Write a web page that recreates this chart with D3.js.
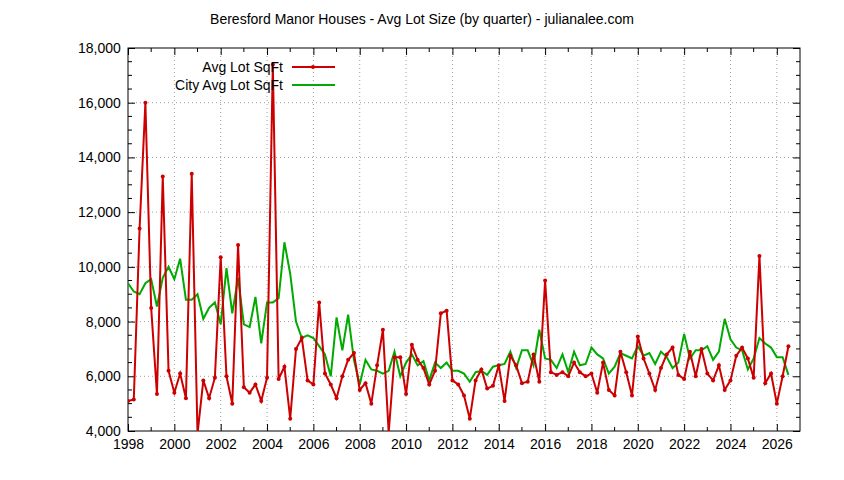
<!DOCTYPE html>
<html>
<head>
<meta charset="utf-8">
<script src="https://cdn.jsdelivr.net/npm/d3@7"></script>
<style>
  body { margin: 0; background: #fff; }
  text { font-family: "Liberation Sans", Arial, sans-serif; }
</style>
</head>
<body>
<svg id="chart" width="844" height="480"></svg>
<script>
// quarterly values, starting 1998 Q1 (thousands of sq ft)
const startYear = 1998;
const avgLot = [
  5.1, 5.15, 11.4, 16.0, 8.5, 5.35, 13.3, 6.2, 5.4, 6.1, 5.2, 13.4,
  3.9, 5.85, 5.2, 5.95, 10.35, 6.0, 5.0, 10.8, 5.6, 5.4, 5.7, 5.1,
  5.95, 17.4, 5.9, 6.35, 4.45, 7.0, 7.4, 5.85, 5.7, 8.7, 6.1, 5.7,
  5.2, 6.0, 6.6, 6.85, 5.5, 5.75, 5.0, 6.4, 7.7, 3.95, 6.7, 6.7,
  5.35, 7.15, 6.6, 6.3, 5.7, 6.2, 8.3, 8.4, 5.85, 5.7, 5.3, 4.45,
  5.85, 6.25, 5.55, 5.65, 6.4, 5.1, 6.75, 6.4, 5.75, 5.8, 6.8, 5.8,
  9.5, 6.15, 6.05, 6.15, 6.0, 6.5, 6.15, 6.0, 6.1, 5.4, 6.5, 5.5,
  5.3, 6.9, 6.15, 5.3, 7.45, 6.65, 6.1, 5.5, 6.3, 6.8, 7.05, 6.05,
  5.9, 6.9, 6.0, 7.0, 6.1, 5.85, 6.4, 5.5, 5.85, 6.75, 7.05, 6.65,
  5.95, 10.4, 5.75, 6.1, 5.0, 6.0, 7.1
];
const cityAvgLot = [
  9.4, 9.1, 9.0, 9.4, 9.55, 8.55, 9.6, 10.0, 9.55, 10.3, 8.8, 8.8,
  9.0, 8.1, 8.5, 8.7, 7.9, 9.95, 8.3, 9.6, 7.9, 7.8, 8.9, 7.2,
  8.7, 8.7, 8.85, 10.9, 9.75, 8.0, 7.4, 7.5, 7.4, 7.1, 6.8, 6.0,
  8.15, 6.95, 8.25, 6.6, 5.7, 6.6, 6.25, 6.2, 6.1, 6.2, 6.9, 6.0,
  6.5, 6.8, 6.4, 6.55, 5.85, 6.5, 6.3, 6.5, 6.2, 6.2, 6.1, 5.8,
  6.15, 6.2, 6.05, 6.35, 6.4, 6.45, 6.9, 6.3, 6.95, 6.95, 6.4, 7.7,
  6.65, 6.6, 6.3, 6.8, 6.15, 6.9, 6.4, 6.45, 7.05, 6.8, 6.65, 6.1,
  6.35, 6.85, 6.75, 6.65, 7.1, 6.75, 6.85, 6.45, 6.9, 6.7, 6.3, 6.5,
  7.55, 6.65, 6.95, 6.95, 7.1, 6.6, 6.9, 8.1, 7.35, 7.05, 6.95, 6.25,
  6.65, 7.4, 7.2, 7.05, 6.7, 6.7, 6.05
];
const xTicks = d3.range(1998, 2027, 2);
const yTicks = d3.range(4000, 18001, 2000);

const svg = d3.select("#chart");
const m = { left: 128, right: 800, top: 48, bottom: 431 };

const x = d3.scaleLinear().domain([1998, 2027]).range([m.left, m.right]);
const y = d3.scaleLinear().domain([4000, 18000]).range([m.bottom, m.top]);

const toPts = arr => arr.map((v, i) => ({ t: startYear + i / 4, v: v * 1000 }));

// grid
svg.append("g").selectAll("line").data(xTicks.slice(1)).join("line")
  .attr("x1", d => x(d)).attr("x2", d => x(d))
  .attr("y1", m.top).attr("y2", m.bottom)
  .attr("stroke", "#a0a0a0").attr("stroke-dasharray", "1,3");
svg.append("g").selectAll("line").data(yTicks.slice(1, -1)).join("line")
  .attr("x1", m.left).attr("x2", m.right)
  .attr("y1", d => y(d)).attr("y2", d => y(d))
  .attr("stroke", "#a0a0a0").attr("stroke-dasharray", "1,3");

// axes (ticks on all sides, gnuplot style)
const xb = svg.append("g").attr("transform", `translate(0,${m.bottom})`)
  .call(d3.axisBottom(x).tickValues(xTicks).tickFormat(d3.format("d")).tickSize(-7).tickSizeOuter(0));
const xt = svg.append("g").attr("transform", `translate(0,${m.top})`)
  .call(d3.axisTop(x).tickValues(xTicks).tickFormat("").tickSize(-7).tickSizeOuter(0));
const yl = svg.append("g").attr("transform", `translate(${m.left},0)`)
  .call(d3.axisLeft(y).tickValues(yTicks).tickSize(-7).tickSizeOuter(0));
const yr = svg.append("g").attr("transform", `translate(${m.right},0)`)
  .call(d3.axisRight(y).tickValues(yTicks).tickFormat("").tickSize(-7).tickSizeOuter(0));
[xb, xt, yl, yr].forEach(g => {
  g.select(".domain").remove();
  g.selectAll("text").attr("font-size", 14).attr("fill", "#000");
});
xb.selectAll("text").attr("dy", "1.1em");
yl.selectAll("text").attr("dx", "-0.3em");

// minor ticks
const minorX = d3.range(1999, 2027, 2);
const minorY = d3.range(4500, 18000, 500).filter(d => d % 2000 !== 0);
svg.append("g").selectAll("line").data(minorX).join("line")
  .attr("x1", d => x(d)).attr("x2", d => x(d)).attr("y1", m.bottom).attr("y2", m.bottom - 4).attr("stroke", "#000");
svg.append("g").selectAll("line").data(minorX).join("line")
  .attr("x1", d => x(d)).attr("x2", d => x(d)).attr("y1", m.top).attr("y2", m.top + 4).attr("stroke", "#000");
svg.append("g").selectAll("line").data(minorY).join("line")
  .attr("x1", m.left).attr("x2", m.left + 4).attr("y1", d => y(d)).attr("y2", d => y(d)).attr("stroke", "#000");
svg.append("g").selectAll("line").data(minorY).join("line")
  .attr("x1", m.right).attr("x2", m.right - 4).attr("y1", d => y(d)).attr("y2", d => y(d)).attr("stroke", "#000");

svg.append("rect").attr("x", m.left).attr("y", m.top)
  .attr("width", m.right - m.left).attr("height", m.bottom - m.top)
  .attr("fill", "none").attr("stroke", "#000");

svg.append("clipPath").attr("id", "clip").append("rect")
  .attr("x", m.left).attr("y", m.top).attr("width", m.right - m.left).attr("height", m.bottom - m.top);

const line = d3.line().x(d => x(d.t)).y(d => y(d.v));
const plot = svg.append("g").attr("clip-path", "url(#clip)");

plot.append("path").datum(toPts(cityAvgLot))
  .attr("d", line).attr("fill", "none").attr("stroke", "#00aa00").attr("stroke-width", 2);
plot.append("path").datum(toPts(avgLot))
  .attr("d", line).attr("fill", "none").attr("stroke", "#cc0000").attr("stroke-width", 2);
plot.append("g").selectAll("circle").data(toPts(avgLot)).join("circle")
  .attr("cx", d => x(d.t)).attr("cy", d => y(d.v)).attr("r", 2).attr("fill", "#cc0000");

// legend
const legend = [
  { name: "Avg Lot SqFt", color: "#cc0000", pt: true },
  { name: "City Avg Lot SqFt", color: "#00aa00", pt: false }
];
legend.forEach((l, i) => {
  const ly = 67 + i * 18;
  svg.append("text").attr("x", 283).attr("y", ly + 5).attr("text-anchor", "end")
    .attr("font-size", 14).text(l.name);
  svg.append("line").attr("x1", 292).attr("x2", 335).attr("y1", ly).attr("y2", ly)
    .attr("stroke", l.color).attr("stroke-width", 2);
  if (l.pt) svg.append("circle").attr("cx", 313).attr("cy", ly).attr("r", 2).attr("fill", l.color);
});

svg.append("text").attr("x", 422).attr("y", 24).attr("text-anchor", "middle")
  .attr("font-size", 14).text("Beresford Manor Houses - Avg Lot Size (by quarter) - julianalee.com");
</script>
</body>
</html>
